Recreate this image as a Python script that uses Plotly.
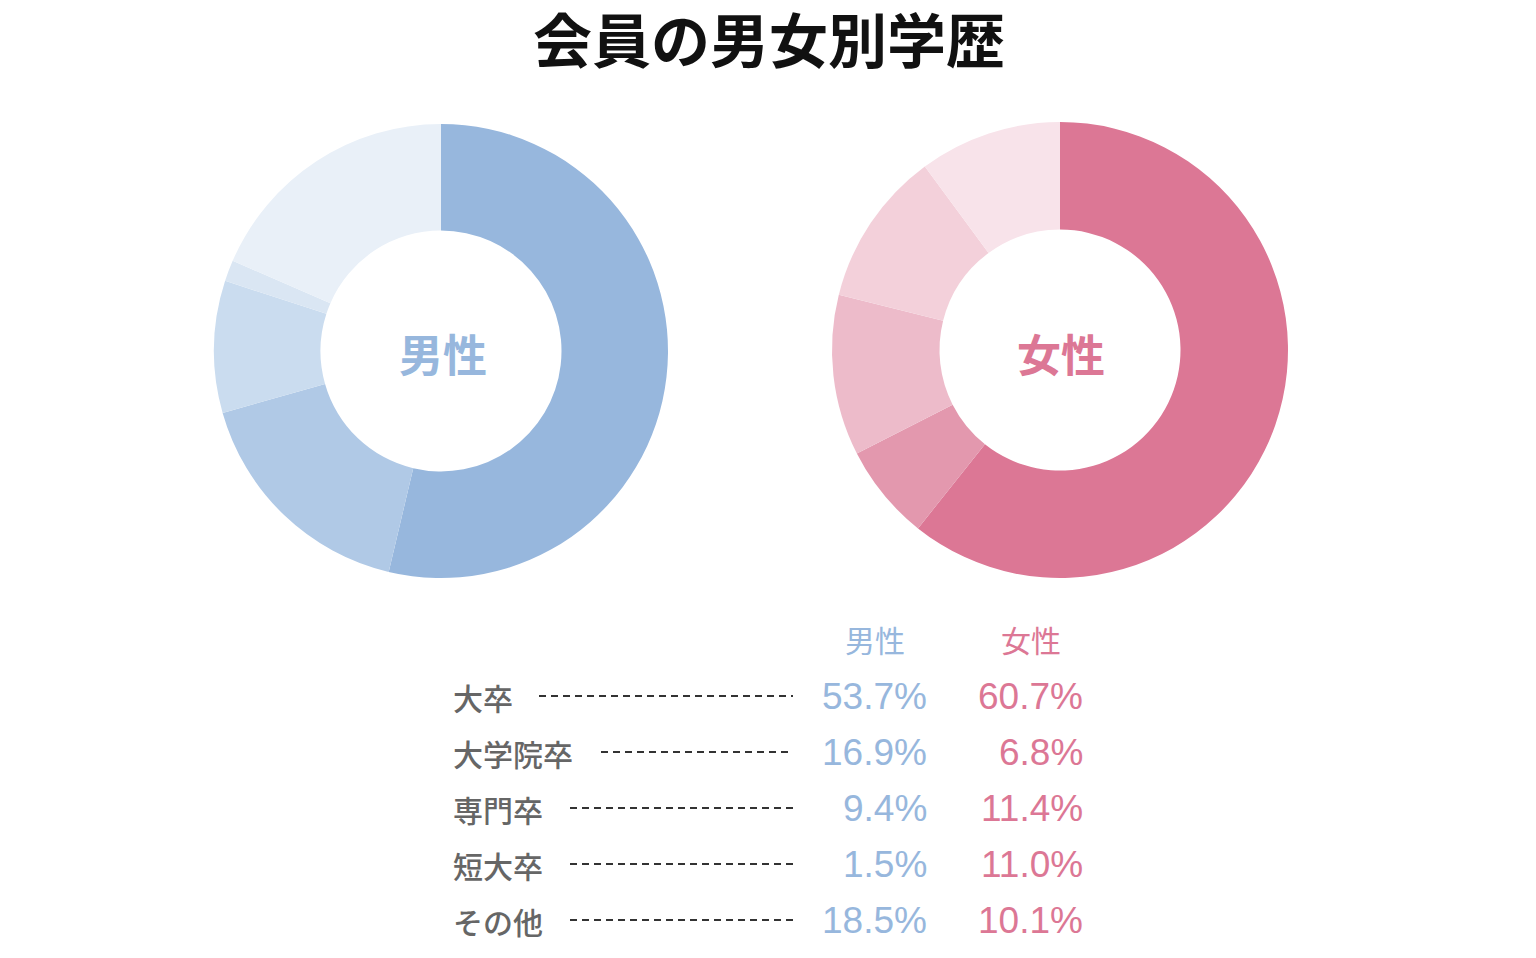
import plotly.graph_objects as go

categories = ["大卒", "大学院卒", "専門卒", "短大卒", "その他"]
male_values = [53.7, 16.9, 9.4, 1.5, 18.5]
female_values = [60.7, 6.8, 11.4, 11.0, 10.1]
male_colors = ["#97b7dd", "#b0c9e6", "#cadcef", "#dae6f3", "#e9f0f8"]
female_colors = ["#dc7795", "#e398ae", "#edbbca", "#f3d0da", "#f8e3ea"]
title_text = "会員の男女別学歴"
male_label = "男性"
female_label = "女性"

W, H = 1536, 958
OFF = 8  # page body margin
CJK = "Noto Sans CJK JP"
NUM = "Liberation Sans, Arial, sans-serif"
GRAY = "#666666"


def px(x):
    return (x - OFF) / W


def py(y):
    return 1 - (y - OFF) / H


def donut(values, colors, cx, cy, r, hole_r):
    return go.Pie(
        labels=categories,
        values=values,
        sort=False,
        direction="clockwise",
        rotation=0,
        hole=hole_r / r,
        marker=dict(colors=colors, line=dict(width=0)),
        textinfo="none",
        hoverinfo="label+percent",
        showlegend=False,
        domain=dict(x=[px(cx - r), px(cx + r)], y=[py(cy + r), py(cy - r)]),
    )


fig = go.Figure()
fig.add_trace(donut(male_values, male_colors, 441, 351, 227, 120.5))
fig.add_trace(donut(female_values, female_colors, 1060, 350, 228, 120.5))

ann = []
# title
ann.append(dict(x=px(769), y=py(38), text=title_text, showarrow=False,
                xanchor="center", yanchor="middle", borderpad=0,
                font=dict(family=CJK, size=59, color="#111111", weight=700)))
# center labels
ann.append(dict(x=px(443), y=py(353), text=male_label, showarrow=False,
                xanchor="center", yanchor="middle",
                font=dict(family=CJK, size=44, color=male_colors[0], weight=700)))
ann.append(dict(x=px(1061), y=py(353), text=female_label, showarrow=False,
                xanchor="center", yanchor="middle",
                font=dict(family=CJK, size=44, color=female_colors[0], weight=700)))
# table headers
ann.append(dict(x=px(875), y=py(639), text=male_label, showarrow=False,
                xanchor="center", yanchor="middle",
                font=dict(family=CJK, size=30, color=male_colors[0])))
ann.append(dict(x=px(1031), y=py(639), text=female_label, showarrow=False,
                xanchor="center", yanchor="middle",
                font=dict(family=CJK, size=30, color=female_colors[0])))

shapes = []
row_y0 = 697
row_step = 56
label_x = 451
char_w = 31
leader_end = 793
for i, cat in enumerate(categories):
    y = row_y0 + i * row_step
    ann.append(dict(x=px(label_x), y=py(y), text=cat, showarrow=False,
                    xanchor="left", yanchor="middle",
                    font=dict(family=CJK, size=30, color=GRAY, weight=500)))
    ann.append(dict(x=px(929), y=py(y - 1), text=f"{male_values[i]:.1f}%", showarrow=False,
                    xanchor="right", yanchor="middle",
                    font=dict(family=NUM, size=37, color=male_colors[0])))
    ann.append(dict(x=px(1085), y=py(y - 1), text=f"{female_values[i]:.1f}%", showarrow=False,
                    xanchor="right", yanchor="middle",
                    font=dict(family=NUM, size=37, color=female_colors[0])))
    start = label_x + len(cat) * char_w + 26
    shapes.append(dict(type="line", xref="paper", yref="paper",
                       x0=px(start), x1=px(leader_end), y0=py(y - 1), y1=py(y - 1),
                       line=dict(color="#333333", width=2, dash="7px,5px")))

fig.update_layout(
    width=W, height=H,
    margin=dict(l=0, r=0, t=0, b=0),
    paper_bgcolor="white",
    plot_bgcolor="white",
    annotations=ann,
    shapes=shapes,
)

fig.write_html("out.html")
